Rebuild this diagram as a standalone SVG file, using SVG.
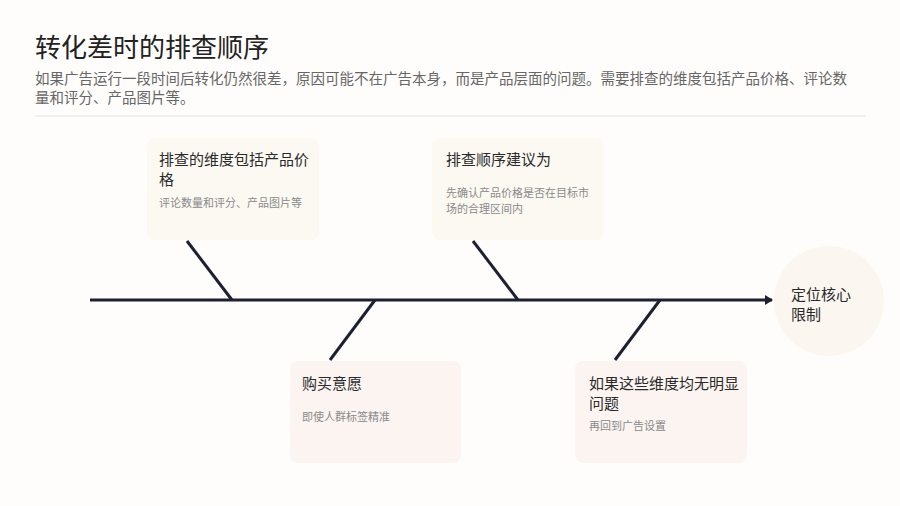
<svg xmlns="http://www.w3.org/2000/svg" width="900" height="506" viewBox="0 0 900 506">
<style>
text{font-family:"Noto Sans CJK SC","Noto Sans",sans-serif}
.h{font-size:15px;fill:#2a2a2a}
.s{font-size:11px;fill:#8a8a8a}
.bone{stroke:#1c2030;stroke-width:3;fill:none}
</style>
<defs><marker id="ah" markerWidth="8" markerHeight="10" refX="7" refY="5" orient="auto" markerUnits="userSpaceOnUse"><path d="M0,0L8,5L0,10z" fill="#1c2030"/></marker></defs>
<rect width="900" height="506" fill="#fefdfb"/>
<text x="35" y="57" font-size="26" fill="#222">转化差时的排查顺序</text>
<text x="35" y="84" font-size="14.5" fill="#666">如果广告运行一段时间后转化仍然很差，原因可能不在广告本身，而是产品层面的问题。需要排查的维度包括产品价格、评论数</text>
<text x="35" y="103" font-size="14.5" fill="#666">量和评分、产品图片等。</text>
<line x1="35" y1="116" x2="866" y2="116" stroke="#e4e2de"/>
<g id="connectors">
<line class="bone" x1="90" y1="300" x2="772" y2="300" marker-end="url(#ah)"/>
<line class="bone" x1="187" y1="241" x2="232" y2="300"/>
<line class="bone" x1="473" y1="241" x2="518" y2="300"/>
<line class="bone" x1="330" y1="360" x2="375" y2="300"/>
<line class="bone" x1="615" y1="360" x2="660" y2="300"/>
</g>
<g id="n1"><rect x="147" y="138" width="172" height="102" rx="8" fill="#fcf9f3"/>
<text class="h" x="159" y="165">排查的维度包括产品价</text><text class="h" x="159" y="185">格</text>
<text class="s" x="159" y="207">评论数量和评分、产品图片等</text></g>
<g id="n2"><rect x="432" y="138" width="172" height="102" rx="8" fill="#fcf9f3"/>
<text class="h" x="446" y="165">排查顺序建议为</text>
<text class="s" x="446" y="197">先确认产品价格是否在目标市</text><text class="s" x="446" y="213">场的合理区间内</text></g>
<g id="n3"><rect x="290" y="361" width="171" height="102" rx="8" fill="#fbf4f1"/>
<text class="h" x="302" y="389">购买意愿</text>
<text class="s" x="302" y="421">即使人群标签精准</text></g>
<g id="n4"><rect x="575" y="361" width="172" height="102" rx="8" fill="#fbf4f1"/>
<text class="h" x="589" y="389">如果这些维度均无明显</text><text class="h" x="589" y="409">问题</text>
<text class="s" x="589" y="430">再回到广告设置</text></g>
<g id="head"><circle cx="829" cy="301" r="55" fill="#fcf6f0"/>
<text class="h" x="791" y="300">定位核心</text><text class="h" x="791" y="320">限制</text></g>
</svg>
